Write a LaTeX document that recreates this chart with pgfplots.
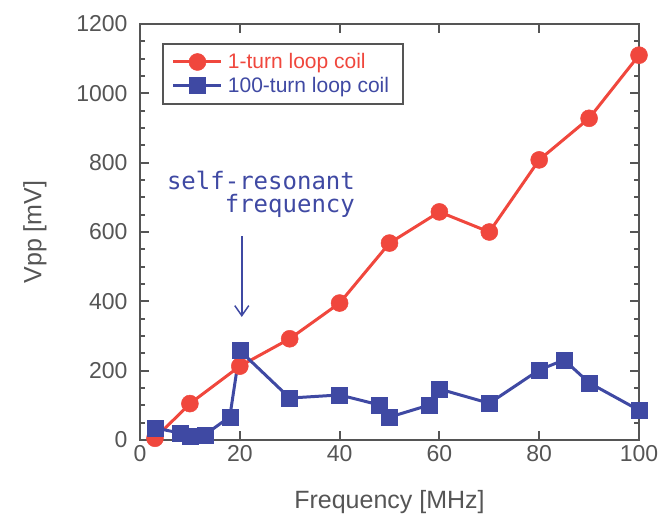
\documentclass[border=0pt]{standalone}
\usepackage{fontspec}
\setmainfont{Liberation Sans}
\newfontfamily\monofont{DejaVu Sans Mono}
\usepackage{pgfplots}
\pgfplotsset{compat=1.18}
\usetikzlibrary{arrows.meta}

\definecolor{myred}{HTML}{F0473D}
\definecolor{myblue}{HTML}{3F49A3}
\definecolor{axisgray}{HTML}{555555}

\begin{document}
\begin{tikzpicture}
  \begin{axis}[
      scale only axis,
      width=499bp, height=416bp,
      xmin=0, xmax=100,
      ymin=0, ymax=1200,
      xtick={0,20,40,60,80,100},
      ytick={0,200,400,600,800,1000,1200},
      minor y tick num=3,
      tick align=inside,
      major tick length=9bp,
      minor tick length=5bp,
      every tick/.style={axisgray, line width=2bp},
      axis line style={axisgray, line width=2.5bp},
      /pgf/number format/assume math mode=true,
      /pgf/number format/1000 sep={},
      tick label style={font=\fontsize{23bp}{26bp}\selectfont, text=axisgray},
      xticklabel style={yshift=-2bp},
      yticklabel style={xshift=-9bp},
      xlabel={Frequency [MHz]},
      ylabel={Vpp [mV]},
      label style={font=\fontsize{25bp}{28bp}\selectfont, text=axisgray},
      xlabel style={at={(axis description cs:0.5,-0.1635)}, anchor=base},
      ylabel style={at={(axis description cs:-0.2104,0.5)}, anchor=center},
      clip=false,
      legend style={
        at={(0.044,0.954)}, anchor=north west,
        draw=axisgray, line width=2bp,
        font=\fontsize{21bp}{24bp}\selectfont,
        inner xsep=9bp, inner ysep=6bp,
        row sep=0bp,
        nodes={inner xsep=5bp, inner ysep=3.5bp},
      },
      legend cell align=left,
      legend image code/.code={
        \draw[mark repeat=2, mark phase=2] plot coordinates {(0bp,0bp) (24bp,0bp) (48bp,0bp)};
      },
    ]

    % 1-turn loop coil
    \addplot[color=myred, line width=3bp, mark=*,
      mark options={solid, fill=myred, draw=myred, line width=0.5bp}, mark size=8.5bp]
      coordinates {
        (3,5) (10,105) (20,213) (30,292) (40,395) (50,568)
        (60,658) (70,600) (80,808) (90,928) (100,1110)
      };
    \addlegendentry{\textcolor{myred}{1-turn loop coil}}

    % 100-turn loop coil
    \addplot[color=myblue, line width=3bp, mark=square*,
      mark options={solid, fill=myblue, draw=myblue, line width=0.5bp}, mark size=8bp]
      coordinates {
        (3,35) (8,20) (10,12) (13,15) (18,67) (20,258) (30,121)
        (40,130) (48,101) (50,66) (58,101) (60,147) (70,106)
        (80,202) (85,231) (90,165) (100,86)
      };
    \addlegendentry{\textcolor{myblue}{100-turn loop coil}}

    \node[anchor=north east, inner sep=0pt, align=right, text=myblue,
      font={\monofont\fontsize{24bp}{23bp}\selectfont}]
      at (axis cs:43.1,775) {self-resonant\\frequency};
    \draw[myblue, line width=1.5bp, -{Straight Barb[length=10bp, width=14bp]}]
      (axis cs:20.4,588) -- (axis cs:20.4,355);
  \end{axis}
  \pgfresetboundingbox
  \path[use as bounding box]
    ([shift={(-140bp,-75bp)}]current axis.south west) rectangle
    ([shift={(33bp,24bp)}]current axis.north east);
\end{tikzpicture}
\end{document}
